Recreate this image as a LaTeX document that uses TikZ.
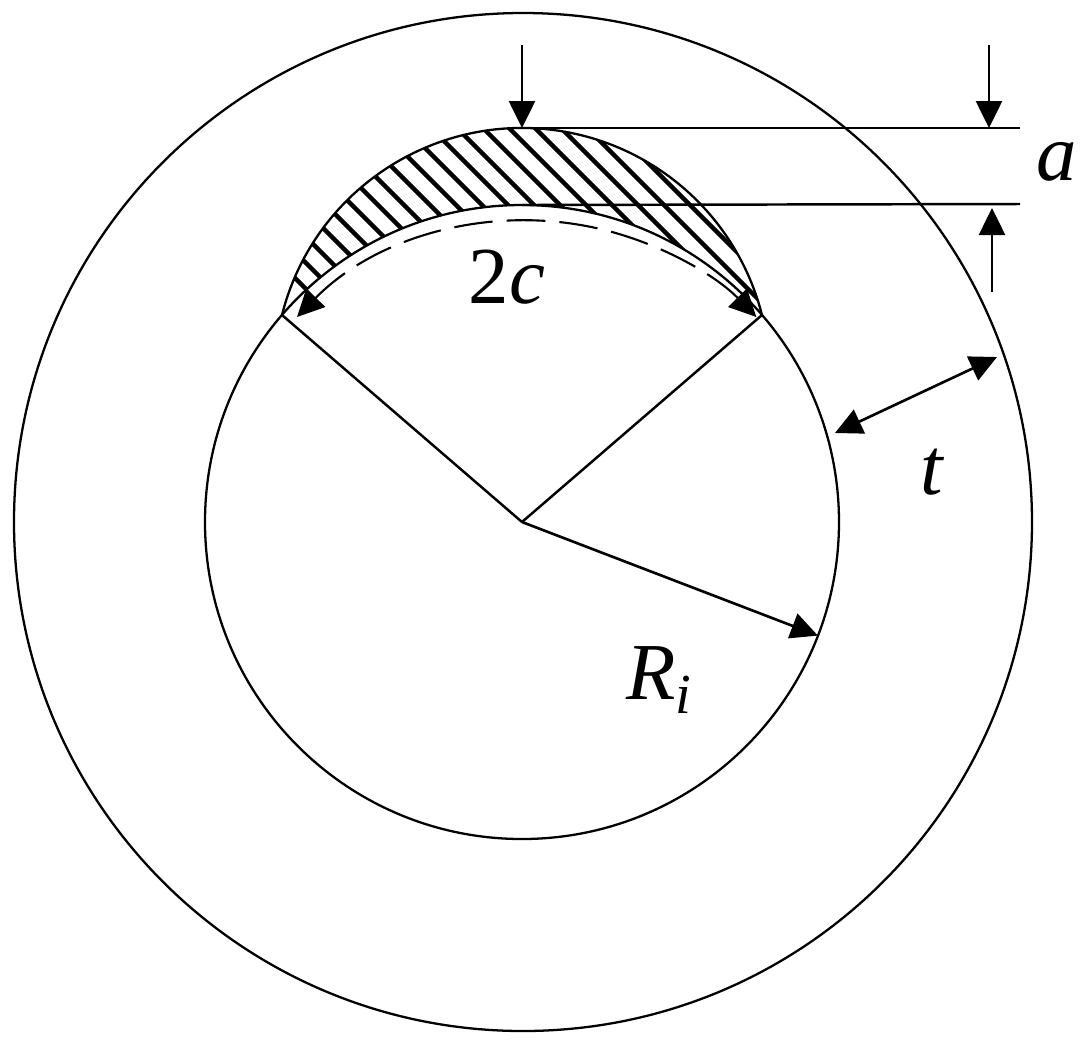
\documentclass[tikz,border=0pt]{standalone}
\usepackage{fontspec}
\setmainfont{Liberation Serif}
\usetikzlibrary{arrows.meta}
\begin{document}
\begin{tikzpicture}[line width=0.7pt,>={Triangle[length=2.7mm,width=2.6mm]},
wall line/.style={draw=black,line width=0.65pt},
dim arrow/.style={->,line width=0.75pt},
dim label/.style={font=\fontsize{23}{28}\selectfont\itshape,inner sep=0pt}]
\useasboundingbox (-5.22,-5.33) rectangle (5.69,5.22);
\coordinate (o) at (0,0);%centre
\coordinate (cL) at (-2.40,2.07);%crack ends
\coordinate (cR) at (2.40,2.07);
\coordinate (cT) at (0,3.94);%crack top
\coordinate (cB) at (0,3.17);%inner wall top
\coordinate (rI) at (-21:3.17);
\coordinate (tIn) at (3.13,0.89);
\coordinate (tOut) at (4.75,1.65);
\coordinate (sT) at (0,4.77);
\coordinate (lA) at (4.98,3.94);
\coordinate (lB) at (4.98,3.18);
\coordinate (aT) at (4.67,4.77);
\coordinate (aTe) at (4.67,3.94);
\coordinate (aB) at (4.70,2.30);
\coordinate (aBe) at (4.70,3.14);
\draw[wall line] (0.01,0) circle (5.09);%outer wall
\draw[wall line] (o) circle (3.17);%inner wall
\begin{scope}
\clip (cL) arc[start angle=165.85,end angle=14.15,radius=2.475] arc[start angle=40.8,end angle=139.2,radius=3.17];
\foreach \c in {0.17,0.43,...,4.9}
\draw[line width=1.25pt] ({\c-5},5) -- (5,{\c-5});%hatch
\end{scope}
\draw[wall line] (cL) arc[start angle=165.85,end angle=14.15,radius=2.475];%crack front
\draw[dim arrow] (o) -- (rI);
\draw (o) -- (cL);
\draw (o) -- (cR);
\draw[<->,line width=0.6pt,dash pattern=on 11pt off 4pt] (-2.25,2.05) arc[start angle=135.6,end angle=44.4,radius=3.215];%2c
\draw[<->,line width=0.75pt] (tIn) -- (tOut);
\draw[dim arrow] (sT) -- (cT);
\draw (cT) -- (lA);
\draw (cB) -- (lB);
\draw[dim arrow] (aT) -- (aTe);
\draw[dim arrow] (aB) -- (aBe);
\node[dim label] (lblA) at (5.35,3.60) {a};
\node[dim label,font=\fontsize{23}{28}\selectfont] (lblC) at (-0.15,2.45) {2\textit{c}};
\node[dim label] (lblT) at (4.10,0.50) {t};
\node[dim label] (lblR) at (1.38,-1.58) {R\textsubscript{i}};
\end{tikzpicture}
\end{document}
